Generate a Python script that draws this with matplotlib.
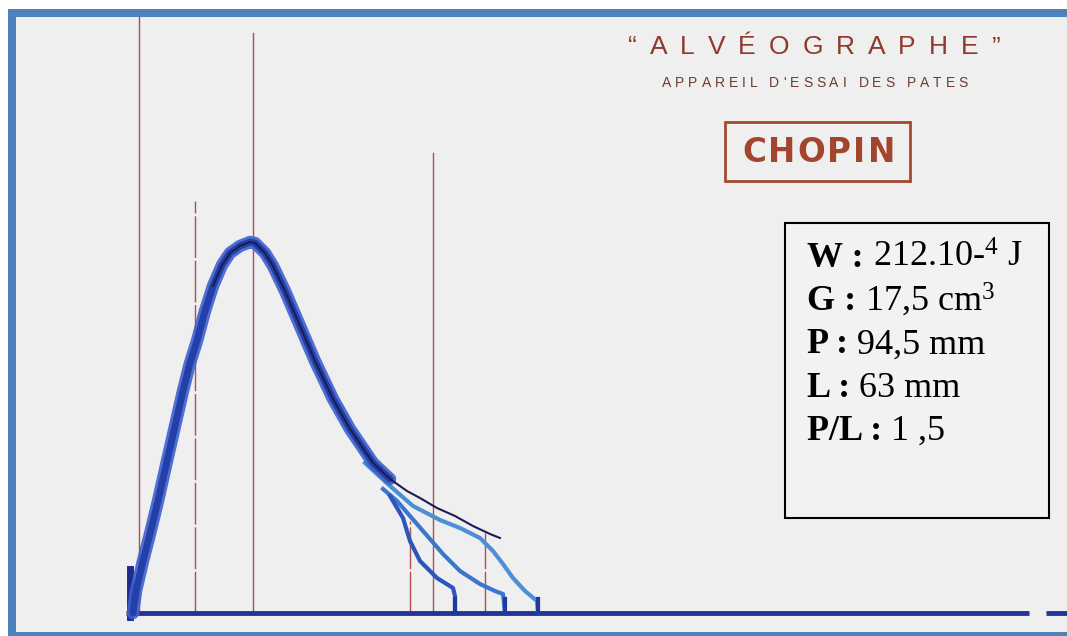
"""Alveograph trace (Chopin) with test results panel."""
import matplotlib
matplotlib.use("Agg")
import matplotlib.pyplot as plt
from matplotlib.patches import Rectangle

W_PX, H_PX = 1067, 636
X0, Y0, SCALE = 137, 613, 4.0   # trace origin (px) and px per mm

# main trace (abscissa mm, overpressure mm)
main_x = [-1, -0.25, 1.5, 3.25, 5.25, 7.5, 9.5, 11.5, 13.25, 15, 17, 19,
          21.25, 23.25, 25.75, 28.25, 29.5, 32, 34, 37, 40.75, 44.5, 49,
          53.25, 59, 63.25, 67.5, 70.75, 75, 79.5, 84, 88.25, 90.75]
main_y = [0, 5.5, 13, 19.75, 28, 38, 46.75, 55.5, 62.5, 68, 75.5, 81.75,
          87, 90, 91.75, 92.75, 92.5, 90, 86.75, 80.5, 71.75, 63, 53.5,
          46, 37.5, 33.5, 30.5, 28.75, 26.25, 24.25, 21.75, 19.75, 18.75]
# repeated bubbles breaking at different points
branch1_x = [57, 63.25, 69, 75.75, 80.75, 85.75, 89, 91.5, 94, 97, 100, 100.25]
branch1_y = [37.5, 31.75, 26.75, 23.25, 21.25, 18.75, 15.5, 12.25, 8.75, 5.5, 3, 0]
branch2_x = [61.5, 65, 68.25, 71.5, 76.5, 80.75, 85.75, 89.5, 91.5, 92]
branch2_y = [31, 28, 24.25, 20.5, 14.75, 10.5, 7.25, 5.5, 4.75, 0]
branch3_x = [63.25, 66.5, 68.25, 70.75, 75, 79, 79.5, 79.5]
branch3_y = [29.25, 23.75, 18, 13, 8.75, 6.25, 4.25, 0]

# vertical reference marks
mark_x = [0.5, 14.5, 29, 68.25, 74, 87]
mark_top = [149, 103, 145, 23, 115, 20]
mark_dashed = [False, True, False, True, False, True]

results = [("W :", " 212.10-$^{4}$ J"),
           ("G :", " 17,5 cm$^{3}$"),
           ("P :", " 94,5 mm"),
           ("L :", " 63 mm"),
           ("P/L :", " 1 ,5")]

plt.rcParams["mathtext.fontset"] = "custom"
plt.rcParams["mathtext.rm"] = "Liberation Serif"
plt.rcParams["mathtext.it"] = "Liberation Serif:italic"
plt.rcParams["mathtext.bf"] = "Liberation Serif:bold"

fig = plt.figure(figsize=(W_PX / 100, H_PX / 100), dpi=100)
fig.patch.set_facecolor("white")
rend = fig.canvas.get_renderer()


def fx(x):
    return x / W_PX


def fy(y):
    return 1 - y / H_PX


def rect_px(x1, y1, x2, y2, **kw):
    fig.add_artist(Rectangle((fx(x1), fy(y2)), (x2 - x1) / W_PX,
                             (y2 - y1) / H_PX, transform=fig.transFigure, **kw))


def spread_text(s, x1, x2, y, **kw):
    """Lay out characters one by one so the word fills x1..x2."""
    ts, ws = [], []
    for ch in s:
        t = fig.text(0, fy(y), ch, ha="left", va="baseline", **kw)
        w = t.get_window_extent(rend).width
        if ch == " ":
            w = t.get_fontsize() * 100 / 72 * 0.3
        ts.append(t); ws.append(w)
    gap = (x2 - x1 - sum(ws)) / (len(s) - 1)
    x = x1
    for t, w in zip(ts, ws):
        t.set_x(fx(x))
        x += w + gap


# paper + blue frame
rect_px(8, 9, W_PX, H_PX, facecolor="#4f81bd", edgecolor="none", zorder=0.2)
rect_px(16, 17, W_PX, 632, facecolor="#efefef", edgecolor="none", zorder=0.3)

ax = fig.add_axes([0, 0, 1, 1])
ax.set_zorder(1)
ax.set_xlim(-X0 / SCALE, (W_PX - X0) / SCALE)
ax.set_ylim(-(H_PX - Y0) / SCALE, Y0 / SCALE)
ax.axis("off")
ax.patch.set_alpha(0)

red = "#a83034"
for x, top, dashed in zip(mark_x, mark_top, mark_dashed):
    ax.plot([x, x], [0, top], color=red, lw=1.0, alpha=0.85,
            dashes=(30, 2) if dashed else (None, None), zorder=2)

# baseline
ax.plot([-2.75, 223], [0, 0], color="#24339a", lw=3.5, solid_capstyle="butt", zorder=3)
ax.plot([227.25, 232.5], [0, 0], color="#24339a", lw=3.5, solid_capstyle="butt", zorder=3)
ax.plot([-1.75, -1.75], [-1, 11], color="#1e2d8c", lw=5, zorder=4)

ax.plot(branch1_x, branch1_y, color="#4d8fd6", lw=3, zorder=4)
ax.plot(branch2_x, branch2_y, color="#3b76cc", lw=3, zorder=4)
ax.plot(branch3_x, branch3_y, color="#2a56bd", lw=3, zorder=4)
for bx in (branch1_x, branch2_x, branch3_x):
    ax.plot([bx[-1], bx[-1]], [0, 3.5], color="#1e3a9c", lw=3, zorder=5)

thick = [i for i, x in enumerate(main_x) if x <= 63.5]
tx = [main_x[i] for i in thick]
ty = [main_y[i] for i in thick]
ax.plot(tx, ty, color="#3d62cf", lw=9, solid_capstyle="round", alpha=0.9, zorder=5)
ax.plot(tx, ty, color="#2440a8", lw=5, solid_capstyle="round", zorder=6)
peak = main_y.index(max(main_y))
ax.plot(main_x[peak - 4:], main_y[peak - 4:], color="#1b1d55", lw=1.5, zorder=7)

# header
brown = "#8e3a2c"
spread_text("\u201cALV\u00c9OGRAPHE\u201d", 628, 1000, 54, fontsize=19,
            family="Liberation Sans", color=brown, zorder=3)
spread_text("APPAREIL D'ESSAI DES PATES", 662, 968, 87, fontsize=10,
            family="Liberation Sans", color="#6e3a30", zorder=3)
rect_px(725, 122, 910, 181, facecolor="none", edgecolor="#a3482f", lw=2, zorder=3)
spread_text("CHOPIN", 742, 895, 162, fontsize=23.5, family="DejaVu Sans",
            fontweight="heavy", color="#a3442e", zorder=3)

# results panel
rect_px(785, 223, 1049, 518, facecolor="#f2f2f2", edgecolor="black", lw=1.5, zorder=3)
for i, (lab, val) in enumerate(results):
    yb = 267 + i * 43.2
    t = fig.text(fx(807), fy(yb), lab, ha="left", va="baseline", zorder=4,
                 fontsize=26, fontweight="bold", family="Liberation Serif")
    w = t.get_window_extent(rend).width
    fig.text(fx(807 + w), fy(yb), val, ha="left", va="baseline", zorder=4,
             fontsize=26, family="Liberation Serif")

fig.savefig("out.png", dpi=100)
